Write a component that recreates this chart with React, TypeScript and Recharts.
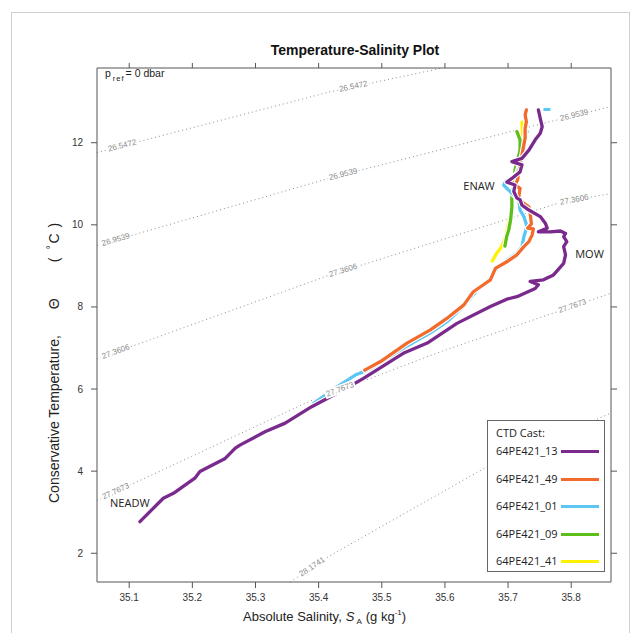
import React from 'react';
import { LineChart, Line, XAxis, YAxis, Legend, ReferenceDot } from 'recharts';

// ---------- axes ----------
const X_DOMAIN: [number, number] = [35.049, 35.863];
const Y_DOMAIN: [number, number] = [1.3, 13.82];
const X_TICKS = [35.1, 35.2, 35.3, 35.4, 35.5, 35.6, 35.7, 35.8];
const Y_TICKS = [2, 4, 6, 8, 10, 12];

// ---------- CTD casts (S_A, Theta), deep -> surface ----------
const cast13 = [
  { s: 35.117, t: 2.77 }, { s: 35.154, t: 3.34 }, { s: 35.17, t: 3.46 }, { s: 35.204, t: 3.83 },
  { s: 35.212, t: 3.99 }, { s: 35.252, t: 4.31 }, { s: 35.268, t: 4.56 }, { s: 35.276, t: 4.64 },
  { s: 35.315, t: 4.96 }, { s: 35.347, t: 5.17 }, { s: 35.389, t: 5.57 }, { s: 35.444, t: 6.02 },
  { s: 35.471, t: 6.26 }, { s: 35.534, t: 6.87 }, { s: 35.572, t: 7.12 }, { s: 35.619, t: 7.6 },
  { s: 35.672, t: 8.01 }, { s: 35.698, t: 8.19 }, { s: 35.714, t: 8.25 }, { s: 35.743, t: 8.45 },
  { s: 35.748, t: 8.54 }, { s: 35.735, t: 8.62 }, { s: 35.756, t: 8.66 }, { s: 35.772, t: 8.78 },
  { s: 35.788, t: 9.06 }, { s: 35.791, t: 9.27 }, { s: 35.788, t: 9.47 }, { s: 35.793, t: 9.59 },
  { s: 35.788, t: 9.71 }, { s: 35.791, t: 9.79 }, { s: 35.783, t: 9.85 }, { s: 35.767, t: 9.83 },
  { s: 35.748, t: 9.83 }, { s: 35.762, t: 9.92 }, { s: 35.759, t: 10.04 }, { s: 35.751, t: 10.2 },
  { s: 35.733, t: 10.36 }, { s: 35.722, t: 10.48 }, { s: 35.719, t: 10.61 }, { s: 35.714, t: 10.65 },
  { s: 35.709, t: 10.81 }, { s: 35.711, t: 10.97 }, { s: 35.698, t: 11.04 }, { s: 35.706, t: 11.13 },
  { s: 35.719, t: 11.29 }, { s: 35.722, t: 11.46 }, { s: 35.706, t: 11.54 }, { s: 35.722, t: 11.62 },
  { s: 35.733, t: 11.82 }, { s: 35.743, t: 12.07 }, { s: 35.751, t: 12.23 }, { s: 35.754, t: 12.39 },
  { s: 35.751, t: 12.59 }, { s: 35.748, t: 12.8 },
];

const cast49 = [
  { s: 35.473, t: 6.46 }, { s: 35.498, t: 6.67 }, { s: 35.54, t: 7.12 }, { s: 35.577, t: 7.44 },
  { s: 35.603, t: 7.72 }, { s: 35.63, t: 8.05 }, { s: 35.645, t: 8.37 }, { s: 35.661, t: 8.54 },
  { s: 35.672, t: 8.66 }, { s: 35.68, t: 8.94 }, { s: 35.698, t: 9.1 }, { s: 35.714, t: 9.27 },
  { s: 35.725, t: 9.47 }, { s: 35.733, t: 9.59 }, { s: 35.738, t: 9.75 }, { s: 35.74, t: 9.9 },
  { s: 35.731, t: 9.92 }, { s: 35.737, t: 10.02 }, { s: 35.735, t: 10.28 }, { s: 35.733, t: 10.44 },
  { s: 35.725, t: 10.52 }, { s: 35.719, t: 10.61 }, { s: 35.717, t: 10.69 }, { s: 35.719, t: 10.89 },
  { s: 35.711, t: 10.97 }, { s: 35.715, t: 11.09 }, { s: 35.717, t: 11.29 }, { s: 35.722, t: 11.7 },
  { s: 35.725, t: 11.95 }, { s: 35.727, t: 12.11 }, { s: 35.727, t: 12.35 }, { s: 35.729, t: 12.51 },
  { s: 35.727, t: 12.68 }, { s: 35.729, t: 12.8 },
];

const cast01 = [
  { s: 35.392, t: 5.65 }, { s: 35.426, t: 6.02 }, { s: 35.458, t: 6.34 }, { s: 35.471, t: 6.42 },
  { s: 35.498, t: 6.61 }, { s: 35.54, t: 7.05 }, { s: 35.577, t: 7.37 }, { s: 35.605, t: 7.66 },
  { s: 35.629, t: 8.01 }, { s: 35.651, t: 8.41 }, { s: 35.672, t: 8.7 }, { s: 35.683, t: 8.94 },
  { s: 35.698, t: 9.14 }, { s: 35.714, t: 9.31 }, { s: 35.722, t: 9.47 }, { s: 35.725, t: 9.71 },
  { s: 35.73, t: 9.96 }, { s: 35.725, t: 10.2 }, { s: 35.719, t: 10.36 }, { s: 35.717, t: 10.61 },
  { s: 35.706, t: 10.77 }, { s: 35.698, t: 10.89 }, { s: 35.693, t: 10.97 }, { s: 35.696, t: 11.05 },
  { s: 35.706, t: 11.13 }, { s: 35.714, t: 11.26 }, { s: 35.719, t: 11.5 }, { s: 35.725, t: 11.82 },
  { s: 35.727, t: 12.15 }, { s: 35.73, t: 12.27 },
];
const cast01Top = [{ s: 35.756, t: 12.81 }, { s: 35.767, t: 12.81 }];

const cast09 = [
  { s: 35.695, t: 9.48 }, { s: 35.698, t: 9.73 }, { s: 35.701, t: 9.87 }, { s: 35.704, t: 10.12 },
  { s: 35.706, t: 10.43 }, { s: 35.706, t: 10.73 }, { s: 35.709, t: 10.93 }, { s: 35.711, t: 11.34 },
  { s: 35.716, t: 11.63 }, { s: 35.719, t: 11.82 }, { s: 35.719, t: 12.07 }, { s: 35.714, t: 12.27 },
];

const cast41 = [
  { s: 35.675, t: 9.12 }, { s: 35.682, t: 9.31 }, { s: 35.69, t: 9.47 }, { s: 35.696, t: 9.71 },
  { s: 35.699, t: 9.92 }, { s: 35.704, t: 10.24 }, { s: 35.706, t: 10.61 }, { s: 35.71, t: 11.04 },
  { s: 35.715, t: 11.46 }, { s: 35.719, t: 11.82 }, { s: 35.723, t: 12.19 }, { s: 35.722, t: 12.5 },
];

const SERIES_NAMES = ['64PE421_13', '64PE421_49', '64PE421_01', '64PE421_09', '64PE421_41'];
const SERIES_COLORS = ['#7A2A8C', '#F26A2C', '#5CC6F2', '#5EBF1A', '#FFF200'];
const SERIES_DATA = [cast13, cast49, cast01, cast09, cast41];

// ---------- isopycnals (sigma0) ----------
const ISO_VALUES = ['26.5472', '26.9539', '27.3606', '27.7673', '28.1741'];
const iso1 = [
  { s: 35.049, t: 11.76 }, { s: 35.089, t: 11.92, lab: true }, { s: 35.418, t: 13.24 },
  { s: 35.455, t: 13.36, lab: true }, { s: 35.593, t: 13.81 },
];
const iso2 = [
  { s: 35.049, t: 9.5 }, { s: 35.079, t: 9.63, lab: true }, { s: 35.418, t: 11.14 },
  { s: 35.439, t: 11.22, lab: true }, { s: 35.714, t: 12.31 }, { s: 35.805, t: 12.66, lab: true },
  { s: 35.862, t: 12.88 },
];
const iso3 = [
  { s: 35.049, t: 6.73 }, { s: 35.079, t: 6.9, lab: true }, { s: 35.418, t: 8.78 },
  { s: 35.439, t: 8.88, lab: true }, { s: 35.778, t: 10.52 }, { s: 35.805, t: 10.6, lab: true },
  { s: 35.862, t: 10.76 },
];
const iso4 = [
  { s: 35.049, t: 3.29 }, { s: 35.079, t: 3.5, lab: true }, { s: 35.384, t: 5.69 },
  { s: 35.434, t: 5.98, lab: true }, { s: 35.593, t: 6.91 }, { s: 35.802, t: 8.01, lab: true },
  { s: 35.862, t: 8.33 },
];
const iso5 = [
  { s: 35.355, t: 1.3 }, { s: 35.39, t: 1.66, lab: true }, { s: 35.418, t: 1.94 },
  { s: 35.667, t: 4.11 }, { s: 35.862, t: 5.41 },
];
const ISO_DATA = [iso1, iso2, iso3, iso4, iso5];

// ---------- water-mass annotations ----------
const WATER_MASSES = [
  { name: 'ENAW', s: 35.654, t: 10.95 },
  { name: 'MOW', s: 35.829, t: 9.29 },
  { name: 'NEADW', s: 35.101, t: 3.23 },
];

// ---------- layout ----------
const W = 643;
const H = 633;
const PLOT_L = 97;
const PLOT_T = 68;
const PLOT_W = 514;
const PLOT_H = 514;
const KX = PLOT_W / (X_DOMAIN[1] - X_DOMAIN[0]);
const KY = PLOT_H / (Y_DOMAIN[1] - Y_DOMAIN[0]);
const AX = '#555';
const SANS = '"Liberation Sans", Arial, sans-serif';
const MYR = '"Open Sans", "Noto Sans", sans-serif';

function isoDot(data: any[], text: string, k: number) {
  return (p: any) => {
    const { cx, cy, index } = p;
    const d = data[index];
    if (!d || !d.lab || cx == null || cy == null) return <g key={`iso-${k}-${index}`} />;
    const a = data[index - 1];
    const b = data[index + 1];
    const ang = (Math.atan2(-(b.t - a.t) * KY, (b.s - a.s) * KX) * 180) / Math.PI;
    return (
      <g key={`iso-${k}-${index}`} transform={`translate(${cx},${cy}) rotate(${ang})`}>
        <rect x={-16} y={-5} width={32} height={9} fill="#fff" />
        <text x={0} y={-0.5} textAnchor="middle" dominantBaseline="central" fontFamily={SANS} fontSize={8} fill="#8a8a8a">
          {text}
        </text>
      </g>
    );
  };
}

const LegendBox = () => (
  <div
    style={{
      width: 118,
      height: 152,
      border: '1px solid #666',
      background: '#fff',
      boxSizing: 'border-box',
      fontFamily: MYR,
      fontSize: 11,
      color: '#222',
      position: 'relative',
    }}
  >
    <div style={{ position: 'absolute', left: 8, top: 4, lineHeight: '16px' }}>CTD Cast:</div>
    {SERIES_NAMES.map((n, i) => (
      <div
        key={n}
        style={{ position: 'absolute', left: 8, top: 22 + i * 27.5, height: 16, lineHeight: '16px', whiteSpace: 'nowrap' }}
      >
        {n}
        <span
          style={{
            position: 'absolute',
            left: 65,
            top: 7,
            width: 38,
            height: 3,
            background: SERIES_COLORS[i],
          }}
        />
      </div>
    ))}
  </div>
);

const TopTitle = () => (
  <g>
    <text x={355} y={50} textAnchor="middle" dominantBaseline="central" fontFamily={SANS} fontSize={14} fontWeight="bold" fill="#111">
      Temperature-Salinity Plot
    </text>
    <text x={105} y={77} fontFamily={SANS} fontSize={10.5} fill="#222">
      p
      <tspan dx={2} dy={4} fontSize={7.5} letterSpacing={1}>ref</tspan>
      <tspan dx={1} dy={-4}>= 0 dbar</tspan>
    </text>
  </g>
);

const XTitle = () => (
  <text x={243} y={621} fontFamily={SANS} fontSize={13} fill="#222">
    Absolute Salinity,
    <tspan dx={4} fontStyle="italic">S</tspan>
    <tspan dx={2} dy={3} fontSize={8}>A</tspan>
    <tspan dx={4} dy={-3}>(g kg</tspan>
    <tspan dy={-6} fontSize={8}>-1</tspan>
    <tspan dy={6}>)</tspan>
  </text>
);

const YTitle = () => (
  <text transform="translate(59,503) rotate(-90)" x={0} y={0} fontFamily={SANS} fontSize={14} fill="#222">
    Conservative Temperature,
    <tspan dx={26}>Θ</tspan>
    <tspan dx={36}>(</tspan>
    <tspan dx={8} dy={-5} fontSize={10}>°</tspan>
    <tspan dx={2} dy={5}>C</tspan>
    <tspan dx={6}>)</tspan>
  </text>
);

const drawOrder = [4, 3, 2, 1, 0];

export default function App() {
  return (
    <div style={{ position: 'absolute', left: 0, top: 0, width: W, height: H, background: '#fff', overflow: 'hidden' }}>
      <div
        style={{
          position: 'absolute',
          left: 11,
          top: 12,
          width: 619,
          height: 660,
          border: '1px solid #cfcfcf',
          boxSizing: 'border-box',
        }}
      />
      <div style={{ position: 'absolute', left: 0, top: 0 }}>
        <LineChart
          width={W}
          height={H}
          margin={{ top: PLOT_T - 10, left: PLOT_L - 40, right: W - PLOT_L - PLOT_W - 10, bottom: H - PLOT_T - PLOT_H - 30 }}
        >
          <XAxis
            xAxisId={0}
            type="number"
            dataKey="s"
            domain={X_DOMAIN}
            ticks={X_TICKS}
            allowDataOverflow
            height={30}
            tickSize={6}
            tickMargin={6}
            stroke={AX}
            tick={{ fontSize: 10, fill: '#333', fontFamily: SANS }}
            tickFormatter={(v: number) => v.toFixed(1)}
            label={() => <XTitle />}
          />
          <XAxis
            xAxisId="top"
            orientation="top"
            type="number"
            dataKey="s"
            domain={X_DOMAIN}
            ticks={X_TICKS}
            allowDataOverflow
            height={10}
            tickSize={5}
            stroke={AX}
            tickFormatter={() => ''}
            label={() => <TopTitle />}
          />
          <YAxis
            yAxisId={0}
            type="number"
            domain={Y_DOMAIN}
            ticks={Y_TICKS}
            allowDataOverflow
            width={40}
            tickSize={6}
            tickMargin={8}
            stroke={AX}
            tick={{ fontSize: 10, fill: '#333', fontFamily: SANS }}
            label={() => <YTitle />}
          />
          <YAxis
            yAxisId="right"
            orientation="right"
            type="number"
            domain={Y_DOMAIN}
            ticks={Y_TICKS}
            allowDataOverflow
            width={10}
            tickSize={6}
            stroke={AX}
            tickFormatter={() => ''}
          />

          {ISO_DATA.map((d, k) => (
            <Line
              key={`iso-line-${k}`}
              data={d}
              dataKey="t"
              type="linear"
              stroke="#8c8c8c"
              strokeWidth={1}
              strokeDasharray="1 3"
              dot={isoDot(d, ISO_VALUES[k], k)}
              activeDot={false}
              legendType="none"
              isAnimationActive={false}
            />
          ))}

          {drawOrder.map((i) => [
            <Line
              key={`halo-${i}`}
              data={SERIES_DATA[i]}
              dataKey="t"
              type="linear"
              stroke="#ffffff"
              strokeWidth={5.5}
              strokeLinejoin="round"
              strokeLinecap="round"
              dot={false}
              activeDot={false}
              legendType="none"
              isAnimationActive={false}
            />,
            <Line
              key={`cast-${i}`}
              name={SERIES_NAMES[i]}
              data={SERIES_DATA[i]}
              dataKey="t"
              type="linear"
              stroke={SERIES_COLORS[i]}
              strokeWidth={3.3}
              strokeLinejoin="round"
              strokeLinecap="round"
              dot={false}
              activeDot={false}
              isAnimationActive={false}
            />,
          ])}
          <Line
            data={cast01Top}
            dataKey="t"
            type="linear"
            stroke={SERIES_COLORS[2]}
            strokeWidth={3}
            dot={false}
            activeDot={false}
            legendType="none"
            isAnimationActive={false}
          />

          {WATER_MASSES.map((w) => (
            <ReferenceDot
              key={w.name}
              x={w.s}
              y={w.t}
              r={0}
              fill="none"
              stroke="none"
              ifOverflow="visible"
              label={(p: any) => {
                const vb = p.viewBox || {};
                const cx = (vb.x ?? 0) + (vb.width ?? 0) / 2;
                const cy = (vb.y ?? 0) + (vb.height ?? 0) / 2;
                return (
                  <text x={cx} y={cy} textAnchor="middle" dominantBaseline="central" fontFamily={MYR} fontSize={11} fill="#222">
                    {w.name}
                  </text>
                );
              }}
            />
          ))}

          <Legend
            layout="horizontal"
            verticalAlign="middle"
            align="center"
            content={() => <LegendBox />}
            wrapperStyle={{ position: 'absolute', left: 487, top: 420, width: 118, height: 152 }}
          />
        </LineChart>
      </div>
    </div>
  );
}
